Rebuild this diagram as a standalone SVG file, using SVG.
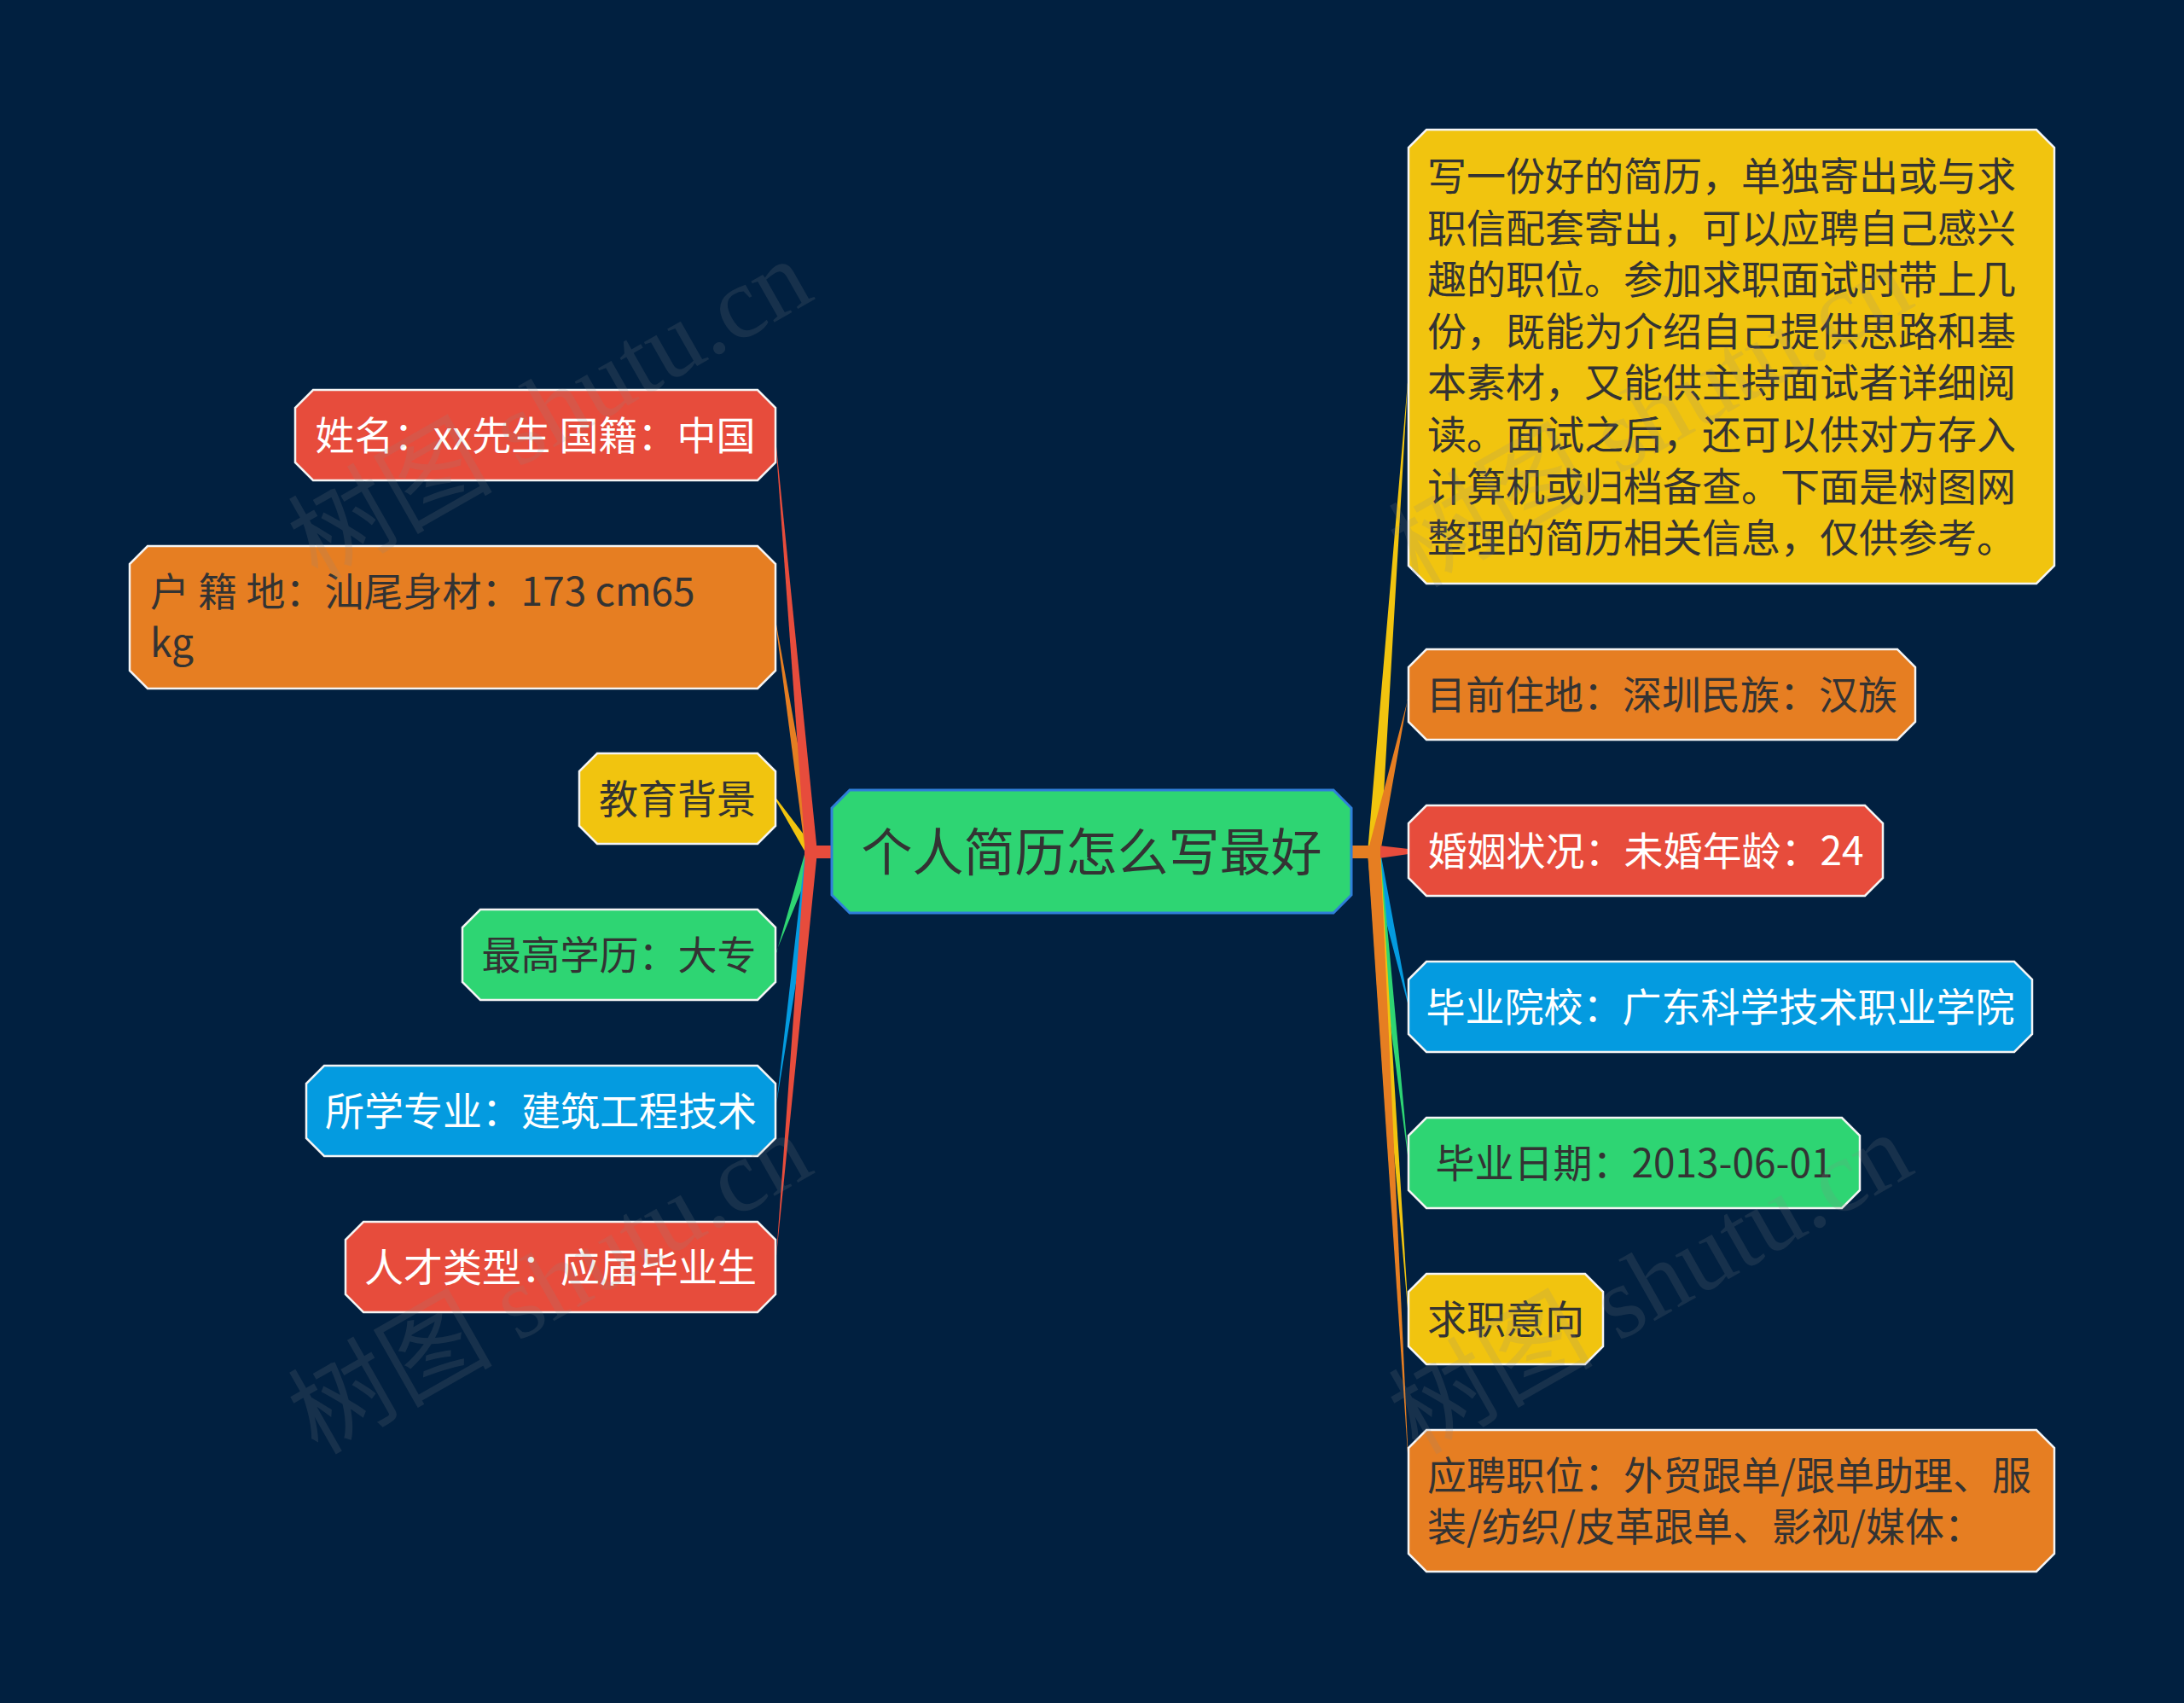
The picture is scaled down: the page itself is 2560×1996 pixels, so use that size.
<svg xmlns="http://www.w3.org/2000/svg" width="2560" height="1996" viewBox="0 0 2560 1996">
<style>
.bg{fill:#012040}
.n{stroke:#f4f4f4;stroke-width:2.5}
.red{fill:#e74c3c}
.org{fill:#e67e22}
.yel{fill:#f1c40f}
.grn{fill:#2ed573}
.blu{fill:#049be0}
.t{font-family:"Noto Sans CJK SC","Liberation Sans",sans-serif;font-size:46px}
.d{fill:#333333}
.w{fill:#ffffff}
.m{text-anchor:middle}
.wm{font-family:"Liberation Serif","Noto Sans CJK SC",serif;font-size:120px;fill:#8a8a8a;opacity:0.16}
</style>
<rect class="bg" x="0" y="0" width="2560" height="1996"/>
<g id="connectors">
  <polygon class="yel" points="909,934.5 958,999 944,999 909,937.5"/>
  <polygon class="grn" points="909,1117.5 958,998 944,998 909,1120.5"/>
  <polygon class="blu" points="909,1300.5 958,998 944,998 909,1303.5"/>
  <polygon class="org" points="909,726.5 958,999 944,999 909,729.5"/>
  <polygon class="red" points="909,513.5 958,999 944,999 909,516.5"/>
  <polygon class="red" points="909,1481.5 958,998 944,998 909,1484.5"/>
  <rect class="red" x="943" y="991" width="34" height="15"/>
  <polygon class="yel" points="1651,433.5 1618,999 1603,999 1651,436.5"/>
  <polygon class="blu" points="1651,1176.5 1618,998 1603,998 1651,1179.5"/>
  <polygon class="grn" points="1651,1358.5 1618,998 1603,998 1651,1361.5"/>
  <polygon class="yel" points="1651,1541.5 1618,998 1603,998 1651,1544.5"/>
  <polygon class="org" points="1651,813.5 1618,999 1603,999 1651,816.5"/>
  <polygon class="org" points="1651,1714.5 1618,998 1603,998 1651,1717.5"/>
  <polygon class="red" points="1616,991 1651,995 1651,1001 1616,1006"/>
  <rect class="org" x="1582" y="991" width="36" height="15"/>
</g>
<g id="center">
  <polygon points="996,926 1563,926 1584,947 1584,1049 1563,1070 996,1070 975,1049 975,947" fill="#2ed573" stroke="#2f7fd9" stroke-width="3"/>
  <text class="t d m" x="1279.5" y="1021" style="font-size:60px">个人简历怎么写最好</text>
</g>
<g id="L1">
  <polygon class="n red" points="367,457 888,457 909,478 909,542 888,563 367,563 346,542 346,478"/>
  <text class="t w m" x="627.5" y="527">姓名：xx先生 国籍：中国</text>
</g>
<g id="L2">
  <polygon class="n org" points="173,640 888,640 909,661 909,786 888,807 173,807 152,786 152,661"/>
  <text class="t d" x="176" y="710">户 籍 地：汕尾身材：173 cm65</text>
  <text class="t d" x="176" y="770">kg</text>
</g>
<g id="L3">
  <polygon class="n yel" points="700,883 888,883 909,904 909,968 888,989 700,989 679,968 679,904"/>
  <text class="t d m" x="794" y="953">教育背景</text>
</g>
<g id="L4">
  <polygon class="n grn" points="563,1066 888,1066 909,1087 909,1151 888,1172 563,1172 542,1151 542,1087"/>
  <text class="t d m" x="725.5" y="1136">最高学历：大专</text>
</g>
<g id="L5">
  <polygon class="n blu" points="380,1249 888,1249 909,1270 909,1334 888,1355 380,1355 359,1334 359,1270"/>
  <text class="t w m" x="634" y="1319">所学专业：建筑工程技术</text>
</g>
<g id="L6">
  <polygon class="n red" points="426,1432 888,1432 909,1453 909,1517 888,1538 426,1538 405,1517 405,1453"/>
  <text class="t w m" x="657" y="1502">人才类型：应届毕业生</text>
</g>
<g id="R1">
  <polygon class="n yel" points="1672,152 2387,152 2408,173 2408,663 2387,684 1672,684 1651,663 1651,173"/>
  <text class="t d" x="1673" y="223">写一份好的简历，单独寄出或与求</text>
  <text class="t d" x="1673" y="284">职信配套寄出，可以应聘自己感兴</text>
  <text class="t d" x="1673" y="344">趣的职位。参加求职面试时带上几</text>
  <text class="t d" x="1673" y="405">份，既能为介绍自己提供思路和基</text>
  <text class="t d" x="1673" y="465">本素材，又能供主持面试者详细阅</text>
  <text class="t d" x="1673" y="526">读。面试之后，还可以供对方存入</text>
  <text class="t d" x="1673" y="587">计算机或归档备查。下面是树图网</text>
  <text class="t d" x="1673" y="647">整理的简历相关信息，仅供参考。</text>
</g>
<g id="R2">
  <polygon class="n org" points="1672,761 2224,761 2245,782 2245,846 2224,867 1672,867 1651,846 1651,782"/>
  <text class="t d m" x="1948" y="831">目前住地：深圳民族：汉族</text>
</g>
<g id="R3">
  <polygon class="n red" points="1672,944 2186,944 2207,965 2207,1029 2186,1050 1672,1050 1651,1029 1651,965"/>
  <text class="t w m" x="1929" y="1014">婚姻状况：未婚年龄：24</text>
</g>
<g id="R4">
  <polygon class="n blu" points="1672,1127 2361,1127 2382,1148 2382,1212 2361,1233 1672,1233 1651,1212 1651,1148"/>
  <text class="t w m" x="2016.5" y="1197">毕业院校：广东科学技术职业学院</text>
</g>
<g id="R5">
  <polygon class="n grn" points="1672,1310 2159,1310 2180,1331 2180,1395 2159,1416 1672,1416 1651,1395 1651,1331"/>
  <text class="t d m" x="1915.5" y="1380">毕业日期：2013-06-01</text>
</g>
<g id="R6">
  <polygon class="n yel" points="1672,1493 1858,1493 1879,1514 1879,1578 1858,1599 1672,1599 1651,1578 1651,1514"/>
  <text class="t d m" x="1765" y="1563">求职意向</text>
</g>
<g id="R7">
  <polygon class="n org" points="1672,1676 2387,1676 2408,1697 2408,1821 2387,1842 1672,1842 1651,1821 1651,1697"/>
  <text class="t d" x="1673" y="1746">应聘职位：外贸跟单/跟单助理、服</text>
  <text class="t d" x="1673" y="1806">装/纺织/皮革跟单、影视/媒体：</text>
</g>
<g id="watermarks">
  <text class="wm" transform="translate(372,682) rotate(-29.6)">树图 shutu.cn</text>
  <text class="wm" transform="translate(372,1706) rotate(-29.6)">树图 shutu.cn</text>
  <text class="wm" transform="translate(1662,690) rotate(-29.6)">树图 shutu.cn</text>
  <text class="wm" transform="translate(1662,1706) rotate(-29.6)">树图 shutu.cn</text>
</g>
</svg>
